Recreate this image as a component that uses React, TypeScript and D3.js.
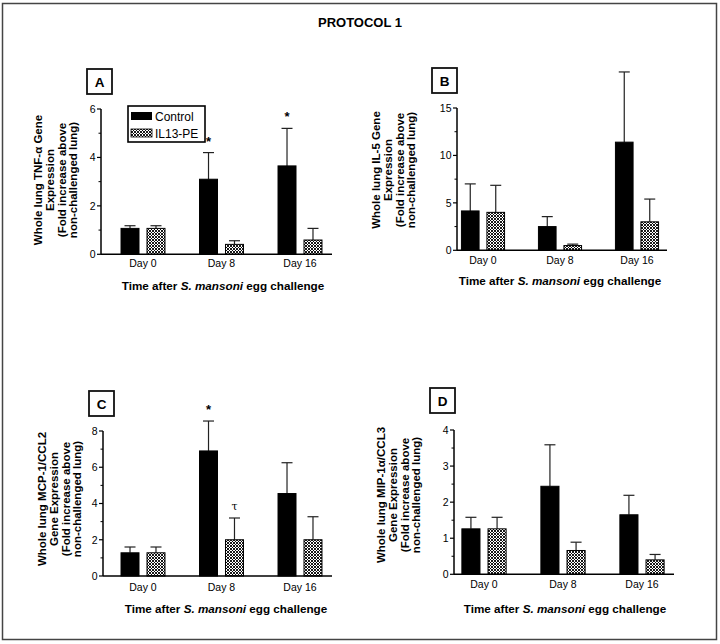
import React from "react";
import * as d3 from "d3";

// ---------- data ----------
const days = ["Day 0", "Day 8", "Day 16"];
const seriesNames = ["Control", "IL13-PE"];

const tnfControl = [1.07, 3.1, 3.65];
const tnfControlSem = [0.11, 1.1, 1.55];
const tnfIl13 = [1.07, 0.41, 0.59];
const tnfIl13Sem = [0.11, 0.15, 0.48];

const il5Control = [4.15, 2.5, 11.4];
const il5ControlSem = [2.85, 1.05, 7.4];
const il5Il13 = [4.0, 0.5, 3.0];
const il5Il13Sem = [2.85, 0.15, 2.4];

const mcpControl = [1.28, 6.9, 4.55];
const mcpControlSem = [0.32, 1.65, 1.7];
const mcpIl13 = [1.28, 2.0, 2.0];
const mcpIl13Sem = [0.32, 1.2, 1.27];

const mipControl = [1.26, 2.44, 1.65];
const mipControlSem = [0.32, 1.15, 0.54];
const mipIl13 = [1.26, 0.66, 0.4];
const mipIl13Sem = [0.32, 0.23, 0.15];

const tnfTicks = [0, 2, 4, 6];
const il5Ticks = [0, 5, 10, 15];
const mcpTicks = [0, 2, 4, 6, 8];
const mipTicks = [0, 1, 2, 3, 4];

const tnfTitle = ["Whole lung TNF-\u03b1 Gene", "Expression", "(Fold increase above", "non-challenged lung)"];
const il5Title = ["Whole lung IL-5 Gene", "Expression", "(Fold increase above", "non-challenged lung)"];
const mcpTitle = ["Whole lung MCP-1/CCL2", "Gene Expression", "(Fold increase above", "non-challenged lung)"];
const mipTitle = ["Whole lung MIP-1\u03b1/CCL3", "Gene Expression", "(Fold increase above", "non-challenged lung)"];

// annotations: [panel, day, series, symbol]
const marks = [
  ["A", "Day 8", "Control", "*"],
  ["A", "Day 16", "Control", "*"],
  ["C", "Day 8", "Control", "*"],
  ["C", "Day 8", "IL13-PE", "\u03c4"],
];

// ---------- layout ----------
const panels = [
  {
    id: "A", ctrl: tnfControl, ctrlSem: tnfControlSem, il: tnfIl13, ilSem: tnfIl13Sem,
    ticks: tnfTicks, title: tnfTitle, yMax: 6,
    axisX: [101, 332], band: [103.75, 339.25], yRange: [254.3, 109],
    labelBox: [87, 69], titleX: 38, titleY: 180, xTitleX: 223, xTitleY: 290, tickY: 267,
    legend: true,
  },
  {
    id: "B", ctrl: il5Control, ctrlSem: il5ControlSem, il: il5Il13, ilSem: il5Il13Sem,
    ticks: il5Ticks, title: il5Title, yMax: 15,
    axisX: [457, 667], band: [444.5, 675.5], yRange: [250.3, 108],
    labelBox: [432, 68], titleX: 376, titleY: 170, xTitleX: 560, xTitleY: 285, tickY: 264,
    legend: false,
  },
  {
    id: "C", ctrl: mcpControl, ctrlSem: mcpControlSem, il: mcpIl13, ilSem: mcpIl13Sem,
    ticks: mcpTicks, title: mcpTitle, yMax: 8,
    axisX: [103, 332], band: [103.75, 339.25], yRange: [576, 431],
    labelBox: [89, 391], titleX: 42, titleY: 499, xTitleX: 226, xTitleY: 613, tickY: 591,
    legend: false,
  },
  {
    id: "D", ctrl: mipControl, ctrlSem: mipControlSem, il: mipIl13, ilSem: mipIl13Sem,
    ticks: mipTicks, title: mipTitle, yMax: 4,
    axisX: [454, 674], band: [444.5, 681.5], yRange: [574.3, 430],
    labelBox: [430, 388], titleX: 381, titleY: 495, xTitleX: 565, xTitleY: 613, tickY: 588,
    legend: false,
  },
];

const FONT = "'Liberation Sans', Arial, Helvetica, sans-serif";

function Panel({ p }: { p: any }) {
  const x = d3.scaleBand<string>().domain(days).range(p.band as [number, number]).paddingInner(0.44).paddingOuter(0.22);
  const xi = d3.scaleBand<string>().domain(seriesNames).range([0, x.bandwidth()]).paddingInner(0.3077);
  const y = d3.scaleLinear().domain([0, p.yMax]).range(p.yRange);
  const step = p.ticks[1] - p.ticks[0];
  const minor = p.ticks.slice(0, -1).map((t: number) => t + step / 2);
  const rows = days.map((d, i) => [
    { day: d, s: "Control", v: p.ctrl[i], e: p.ctrlSem[i] },
    { day: d, s: "IL13-PE", v: p.il[i], e: p.ilSem[i] },
  ]).flat();
  const axisLeft = p.axisX[0];
  const y0 = y(0);
  const capHalf = 5.5;
  return (
    <g>
      {/* panel label box */}
      <rect x={p.labelBox[0]} y={p.labelBox[1]} width={25} height={25} fill="white" stroke="#111" strokeWidth={1.8} />
      <text x={p.labelBox[0] + 12.5} y={p.labelBox[1] + 17.5} textAnchor="middle" fontSize={13.5} fontWeight="bold" fontFamily={FONT}>{p.id}</text>

      {/* bars */}
      {rows.map((r, i) => {
        const bx = (x(r.day) as number) + (xi(r.s) as number);
        const bw = xi.bandwidth();
        const cx = bx + bw / 2;
        const top = y(r.v + r.e);
        return (
          <g key={i}>
            <line x1={cx} x2={cx} y1={y(r.v)} y2={top} stroke="#222" strokeWidth={1.2} />
            <line x1={cx - capHalf} x2={cx + capHalf} y1={top} y2={top} stroke="#222" strokeWidth={1.2} />
            <rect x={bx} y={y(r.v)} width={bw} height={y0 - y(r.v)}
              fill={r.s === "Control" ? "#000" : "url(#hatch)"} stroke="#000" strokeWidth={1} />
          </g>
        );
      })}

      {/* annotations */}
      {marks.filter((m) => m[0] === p.id).map((m, i) => {
        const di = days.indexOf(m[1]);
        const isCtrl = m[2] === "Control";
        const v = isCtrl ? p.ctrl[di] + p.ctrlSem[di] : p.il[di] + p.ilSem[di];
        const cx = (x(m[1]) as number) + (xi(m[2]) as number) + xi.bandwidth() / 2;
        return (
          <text key={i} x={cx} y={y(v) - (m[3] === "*" ? 7 : 8)} textAnchor="middle"
            fontSize={m[3] === "*" ? 13 : 11} fontWeight={m[3] === "*" ? "bold" : "normal"}
            fontFamily={m[3] === "*" ? FONT : "'DejaVu Serif', serif"}>{m[3]}</text>
        );
      })}

      {/* axes */}
      <line x1={axisLeft} x2={axisLeft} y1={y0} y2={y(p.yMax)} stroke="#000" strokeWidth={1.5} />
      <line x1={axisLeft} x2={p.axisX[1]} y1={y0} y2={y0} stroke="#000" strokeWidth={1.5} />
      {p.ticks.map((t: number) => (
        <g key={t}>
          <line x1={axisLeft - 4} x2={axisLeft} y1={y(t)} y2={y(t)} stroke="#000" strokeWidth={1.2} />
          <text x={axisLeft - 5.5} y={y(t) + 3.8} textAnchor="end" fontSize={10.5} fontFamily={FONT}>{t}</text>
        </g>
      ))}
      {minor.map((t: number) => (
        <line key={"m" + t} x1={axisLeft - 2.5} x2={axisLeft} y1={y(t)} y2={y(t)} stroke="#000" strokeWidth={1} />
      ))}
      {days.map((d) => (
        <text key={d} x={(x(d) as number) + x.bandwidth() / 2} y={p.tickY} textAnchor="middle" fontSize={10.5} fontFamily={FONT}>{d}</text>
      ))}

      {/* x title */}
      <text x={p.xTitleX} y={p.xTitleY} textAnchor="middle" fontSize={11.7} fontWeight="bold" fontFamily={FONT}>
        Time after <tspan fontStyle="italic">S. mansoni</tspan> egg challenge
      </text>

      {/* y title */}
      <g transform={`translate(${p.titleX},${p.titleY}) rotate(-90)`}>
        {p.title.map((line: string, i: number) => (
          <text key={i} x={0} y={i * 11.8 + 4} textAnchor="middle" fontSize={11.5} fontWeight="bold" fontFamily={FONT}>{line}</text>
        ))}
      </g>

      {p.legend && (
        <g>
          <rect x={128} y={106} width={77} height={36} fill="white" stroke="#000" strokeWidth={1.6} />
          <rect x={131} y={112} width={21} height={8} fill="#000" />
          <text x={155} y={121} fontSize={12} fontFamily={FONT}>{seriesNames[0]}</text>
          <rect x={131} y={129} width={21} height={8} fill="url(#hatch)" stroke="#000" strokeWidth={0.8} />
          <text x={155} y={138} fontSize={12} fontFamily={FONT}>{seriesNames[1]}</text>
        </g>
      )}
    </g>
  );
}

export default function App() {
  return (
    <svg width={720} height={644} style={{ position: "absolute", left: 0, top: 0, background: "white" }}>
      <defs>
        <pattern id="hatch" patternUnits="userSpaceOnUse" width={3} height={3}>
          <rect width={3} height={3} fill="white" />
          <path d="M0,0 L3,3 M3,0 L0,3" stroke="#000" strokeWidth={0.9} />
        </pattern>
      </defs>
      <rect x={0} y={0} width={720} height={644} fill="white" />
      <rect x={2.5} y={3.5} width={714} height={636} fill="none" stroke="#444" strokeWidth={1.5} />
      <text x={360} y={27} textAnchor="middle" fontSize={13} fontWeight="bold" fontFamily={FONT}>PROTOCOL 1</text>
      {panels.map((p) => <Panel key={p.id} p={p} />)}
    </svg>
  );
}
